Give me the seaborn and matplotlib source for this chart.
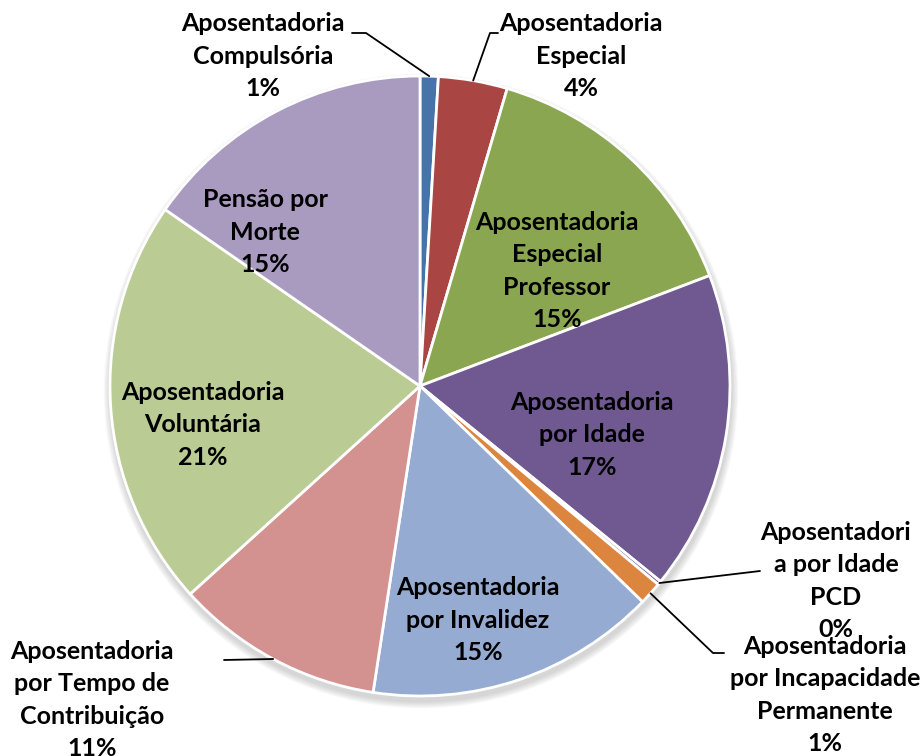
import numpy as np
import pandas as pd
import seaborn as sns
import matplotlib.pyplot as plt
from matplotlib.patches import Circle

# Data (share of benefits, %)
categories = [
    "Aposentadoria\nCompulsória",
    "Aposentadoria\nEspecial",
    "Aposentadoria\nEspecial\nProfessor",
    "Aposentadoria\npor Idade",
    "Aposentadori\na por Idade\nPCD",
    "Aposentadoria\npor Incapacidade\nPermanente",
    "Aposentadoria\npor Invalidez",
    "Aposentadoria\npor Tempo de\nContribuição",
    "Aposentadoria\nVoluntária",
    "Pensão por\nMorte",
]
values = [0.95, 3.6, 14.7, 16.7, 0.2, 1.2, 15.2, 10.9, 21.4, 15.4]
colors = ["#4673A9", "#A94643", "#8BA651", "#705891", "#6F5790",
          "#DC853F", "#95ABD2", "#D39190", "#BACB94", "#A99BBF"]

df = pd.DataFrame({"categoria": categories, "valor": values})
df["pct"] = df["valor"] / df["valor"].sum() * 100

sns.set_theme(style="white")
plt.rcParams['font.family'] = ['Lato', 'DejaVu Sans']

W, H = 922, 756
fig = plt.figure(figsize=(W / 100, H / 100), dpi=100)
ax = fig.add_axes([0, 0, 1, 1])

# pie geometry in pixel units (y measured from bottom)
cx, cy, R = 420, H - 386, 310

# soft shadow under the pie
for i in range(8):
    ax.add_patch(Circle((cx + 1, cy - 5), R + 1 + i * 0.9, color="#808080",
                        alpha=0.045, lw=0, zorder=0))

wedges, _ = ax.pie(df["valor"], colors=colors, startangle=90, counterclock=False,
                   center=(cx, cy), radius=R,
                   wedgeprops=dict(edgecolor="white", linewidth=2))
for w in wedges:
    w.set_zorder(2)

ax.set_xlim(0, W)
ax.set_ylim(0, H)
ax.set_aspect("equal")
ax.axis("off")

# label block centres (pixels from top-left) and leader elbows
label_pos = [(263, 56), (581, 56), (557, 271), (592, 435), (836, 581),
             (825, 695), (478, 620), (92, 700), (203, 425), (265, 232)]
leaders = {
    0: [(366, 33), (352, 33)],
    1: [(490, 33), (498, 33)],
    4: [(760, 571)],
    5: [(713, 653), (724, 653)],
    7: [(224, 660)],
}

for i, w in enumerate(wedges):
    lab = f"{df['categoria'][i]}\n{round(df['pct'][i])}%"
    x, y = label_pos[i]
    ax.text(x, H - y, lab, ha="center", va="center", fontsize=18,
            fontweight="bold", color="black", linespacing=1.5, zorder=5)
    if i in leaders:
        mid = np.deg2rad((w.theta1 + w.theta2) / 2)
        pts = [(cx + R * np.cos(mid), cy + R * np.sin(mid))]
        pts += [(px, H - py) for px, py in leaders[i]]
        xs, ys = zip(*pts)
        ax.plot(xs, ys, color="black", lw=1.3, zorder=4)

fig.savefig("out.png", dpi=100)
